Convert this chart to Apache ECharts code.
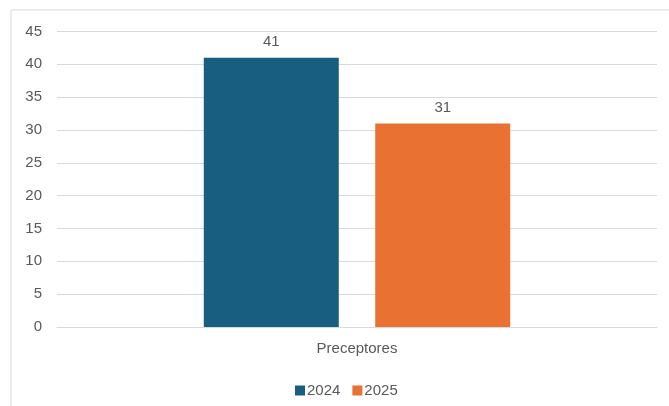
<!DOCTYPE html>
<html>
<head>
<meta charset="utf-8">
<script src="https://cdn.jsdelivr.net/npm/echarts@6/dist/echarts.min.js"></script>
<style>
html,body{margin:0;padding:0;background:#fff;}
#c{width:669px;height:406px;}
</style>
</head>
<body>
<div id="c"></div>
<script>
const categories = ["Preceptores"];
const seriesNames = ["2024", "2025"];
const values2024 = [41];
const values2025 = [31];
const colors = ["#175E80", "#E97132"];

const chart = echarts.init(document.getElementById('c'), null, {renderer: 'canvas'});
const font = "Liberation Sans";
const textColor = "#595959";
const fs = 15;
chart.setOption({
  animation: false,
  backgroundColor: '#fff',
  textStyle: {fontFamily: font},
  graphic: [{
    type: 'rect',
    shape: {x: 11, y: 10, width: 700, height: 420},
    style: {fill: 'none', stroke: '#d9d9d9', lineWidth: 1},
    silent: true
  }],
  grid: {left: 57, right: 12, top: 31.5, bottom: 79, containLabel: false},
  legend: {
    data: seriesNames,
    top: 378,
    left: 290,
    itemWidth: 10,
    itemHeight: 10,
    itemGap: 12,
    icon: 'rect',
    textStyle: {color: textColor, fontSize: fs, fontFamily: font, padding: [0,0,0,-3]}
  },
  xAxis: {
    type: 'category',
    data: categories,
    axisLine: {show: true, lineStyle: {color: '#d9d9d9', width: 1}},
    axisTick: {show: false},
    axisLabel: {color: textColor, fontSize: fs, fontFamily: font, margin: 14}
  },
  yAxis: {
    type: 'value',
    min: 0,
    max: 45,
    interval: 5,
    axisLine: {show: false},
    axisTick: {show: false},
    axisLabel: {color: textColor, fontSize: fs, fontFamily: font, margin: 15},
    splitLine: {lineStyle: {color: '#d9d9d9', width: 1}}
  },
  series: [
    {
      name: seriesNames[0],
      type: 'bar',
      data: values2024,
      barWidth: 135,
      barGap: '27%',
      itemStyle: {color: colors[0]},
      label: {show: true, position: 'top', distance: 8, color: textColor, fontSize: fs, fontFamily: font}
    },
    {
      name: seriesNames[1],
      type: 'bar',
      data: values2025,
      barWidth: 135,
      barGap: '27%',
      itemStyle: {color: colors[1]},
      label: {show: true, position: 'top', distance: 8, color: textColor, fontSize: fs, fontFamily: font}
    }
  ]
});
</script>
</body>
</html>
